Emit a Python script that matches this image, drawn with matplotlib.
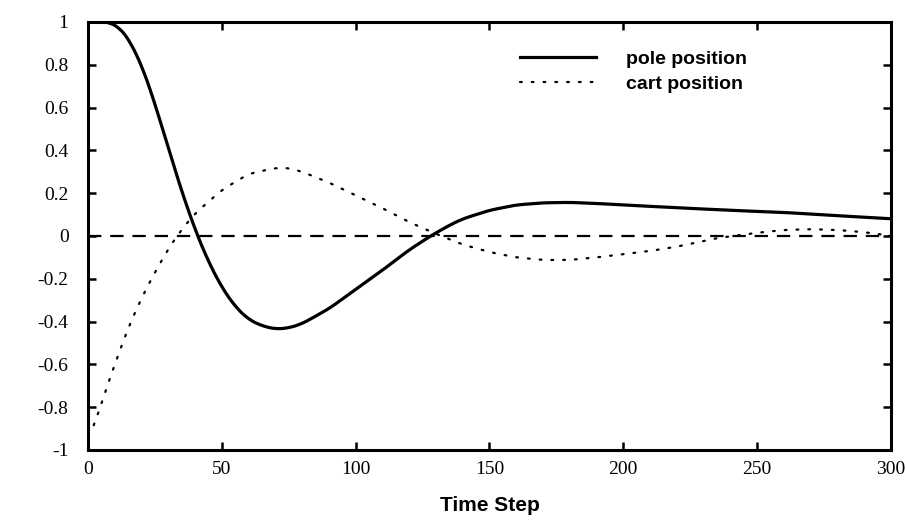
import matplotlib
matplotlib.use("Agg")
import matplotlib.pyplot as plt
import numpy as np

# values (time step vs position)
pole_t = [0, 5, 8, 12, 15, 20, 25, 30, 35, 40, 45, 50, 55, 60, 65, 70, 75, 80, 90, 100,
          110, 120, 128, 135, 140, 150, 160, 170, 180, 190, 200, 220, 240, 260, 280, 300]
pole_pos = [1.0, 1.0, 1.0, 0.97, 0.925, 0.80, 0.62, 0.41, 0.21, 0.03, -0.12, -0.24,
            -0.33, -0.39, -0.42, -0.435, -0.43, -0.41, -0.34, -0.25, -0.16, -0.065, 0.0,
            0.05, 0.08, 0.12, 0.145, 0.155, 0.157, 0.152, 0.145, 0.132, 0.12, 0.11, 0.095, 0.08]

cart_t = [0, 2, 5, 10, 15, 20, 25, 30, 35, 40, 50, 60, 70, 75, 80, 90, 100, 110, 120,
          130, 140, 150, 160, 170, 180, 190, 200, 210, 220, 235, 250, 260, 270, 280, 290, 300]
cart_pos = [-0.95, -0.90, -0.78, -0.60, -0.43, -0.29, -0.17, -0.06, 0.03, 0.105, 0.215,
            0.29, 0.318, 0.318, 0.30, 0.25, 0.19, 0.13, 0.065, 0.01, -0.04, -0.075, -0.10,
            -0.112, -0.112, -0.10, -0.085, -0.07, -0.05, -0.01, 0.015, 0.028, 0.032, 0.028,
            0.018, 0.0]

x_ticks = [0, 50, 100, 150, 200, 250, 300]
y_ticks = [-1, -0.8, -0.6, -0.4, -0.2, 0, 0.2, 0.4, 0.6, 0.8, 1]
y_labels = ["-1", "-0.8", "-0.6", "-0.4", "-0.2", "0", "0.2", "0.4", "0.6", "0.8", "1"]

fig = plt.figure(figsize=(9.06, 5.25), dpi=100)
ax = fig.add_axes([0.0971, 0.1429, 0.8863, 0.8152])

# smooth the hand-read points a bit for drawing
tt = np.linspace(0, 300, 601)
pole_s = np.interp(tt, pole_t, pole_pos)
cart_s = np.interp(tt, cart_t, cart_pos)
k = np.ones(11) / 11
pole_s = np.convolve(np.pad(pole_s, 5, mode="edge"), k, mode="valid")
cart_s = np.convolve(np.pad(cart_s, 5, mode="edge"), k, mode="valid")

ax.axhline(0, color="black", lw=1.6, linestyle=(0, (6, 4)))
ax.plot(tt, pole_s, color="black", lw=2.3, label="pole position")
ax.plot(tt, cart_s, color="black", lw=1.6, linestyle=(0, (0.8, 4.5)),
        dash_capstyle="round", label="cart position")

ax.set_xlim(0, 300)
ax.set_ylim(-1, 1)
ax.set_xticks(x_ticks)
ax.set_yticks(y_ticks)
ax.set_yticklabels(y_labels)
for lab in ax.get_xticklabels() + ax.get_yticklabels():
    lab.set_fontfamily("Liberation Serif")
    lab.set_fontsize(14)
ax.tick_params(direction="in", length=6, width=1.8, top=True, right=True)
ax.tick_params(axis="y", pad=14)
ax.tick_params(axis="x", pad=8)
for s in ax.spines.values():
    s.set_linewidth(2.2)

ax.set_xlabel("Time Step", fontfamily="Liberation Sans", fontweight="bold",
              fontsize=15, labelpad=13)

leg = ax.legend(loc="upper left", bbox_to_anchor=(0.538, 0.933), frameon=False,
                prop={"family": "Liberation Sans", "weight": "bold", "size": 14},
                handlelength=3.9, handletextpad=1.55, labelspacing=0.35,
                borderpad=0, borderaxespad=0)

fig.savefig("out.png", dpi=100)
